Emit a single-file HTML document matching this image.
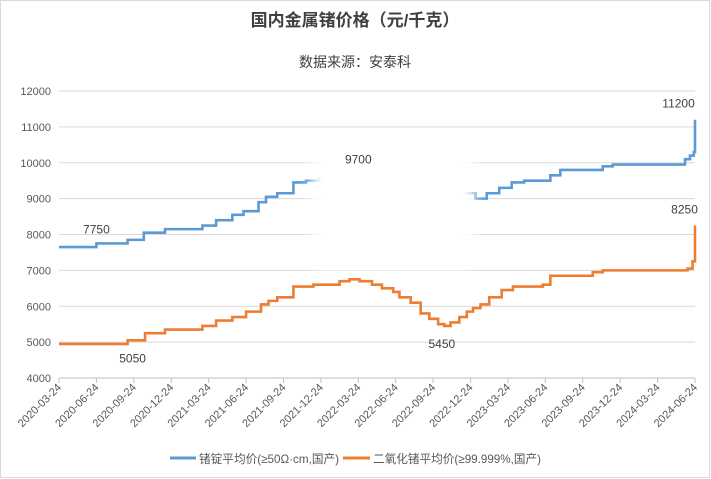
<!DOCTYPE html>
<html><head><meta charset="utf-8"><style>
body{margin:0;background:#fff;}
#wrap{position:relative;width:711px;height:479px;overflow:hidden;background:#fff;font-family:"Liberation Sans","Noto Sans CJK SC",sans-serif;}
</style></head><body>
<div id="wrap">
<svg id="chart" width="711" height="479"></svg>
</div>
<script>
const xTicks=["2020-03-24","2020-06-24","2020-09-24","2020-12-24","2021-03-24","2021-06-24","2021-09-24","2021-12-24","2022-03-24","2022-06-24","2022-09-24","2022-12-24","2023-03-24","2023-06-24","2023-09-24","2023-12-24","2024-03-24","2024-06-24"];
const yTicks=[4000,5000,6000,7000,8000,9000,10000,11000,12000];
// month offsets from 2020-03-24
const ingotMonths=[0,3,5.5,6.8,8.5,11.5,12.6,13.9,14.8,16,16.6,17.5,18.8,19.8,20.8,24,26,28,30,32,33.4,34.3,35.3,36.3,37.3,39.4,40.2,43.6,44.4,50.2,50.6,50.9,51];
const ingotValues=[7650,7750,7850,8050,8150,8250,8400,8550,8650,8900,9050,9150,9450,9500,9550,9700,9650,9500,9300,9150,9000,9150,9300,9450,9500,9650,9800,9900,9950,10100,10200,10300,11200];
const oxideMonths=[0,5.5,6.9,8.5,11.5,12.6,13.9,15,16.2,16.8,17.5,18.8,20.4,22.5,23.3,24.1,25.1,25.9,26.8,27.3,28.2,29,29.7,30.4,30.9,31.4,32.1,32.7,33.2,33.8,34.5,35.5,36.4,38.8,39.4,42.8,43.6,50.4,50.8,51];
const oxideValues=[4950,5050,5250,5350,5450,5600,5700,5850,6050,6150,6250,6550,6600,6700,6750,6700,6600,6500,6400,6250,6100,5800,5650,5500,5450,5550,5700,5850,5950,6050,6250,6450,6550,6600,6850,6950,7000,7050,7250,8250];
const labelValues=[7750,5050,9700,5450,11200,8250];

const X0=59,X1=695,Y0=378,Y1=91;
const xs=m=>X0+(X1-X0)*m/51;
const ys=v=>Y0-(Y0-Y1)*(v-4000)/8000;
const svg=document.getElementById('chart');
const NS='http://www.w3.org/2000/svg';
function mk(t,a,p){const e=document.createElementNS(NS,t);for(const k in a)e.setAttribute(k,a[k]);(p||svg).appendChild(e);return e;}

mk('rect',{x:0.5,y:0.5,width:709,height:477,fill:'none',stroke:'#d9d9d9'});
let t=mk('text',{x:355,y:26,'text-anchor':'middle','font-size':17,'font-weight':'bold',fill:'#404040'});t.textContent='国内金属锗价格（元/千克）';

t=mk('text',{x:355,y:67,'text-anchor':'middle','font-size':14,fill:'#404040'});t.textContent='数据来源：安泰科';


yTicks.forEach(v=>{
  const g=mk('line',{x1:X0,x2:X1,y1:ys(v),y2:ys(v),stroke:v===4000?'#bfbfbf':'#d9d9d9','stroke-width':1});
  
  const l=mk('text',{x:51,y:ys(v)+4,'text-anchor':'end','font-size':11,fill:'#595959'});l.textContent=v;
  
});
xTicks.forEach((d,i)=>{
  const x=xs(i*3);
  mk('line',{x1:x,x2:x,y1:Y0,y2:Y0+5,stroke:'#bfbfbf'});
  const l=mk('text',{x:x+3,y:Y0+10,'text-anchor':'end','font-size':11,fill:'#595959',transform:`rotate(-45 ${x+3} ${Y0+10})`});l.textContent=d;
  
});

function stepPath(ms,vs){let d=`M${xs(ms[0])},${ys(vs[0])}`;for(let i=1;i<ms.length;i++){d+=`H${xs(ms[i])}V${ys(vs[i])}`;}return d;}
let p=mk('path',{d:stepPath(ingotMonths,ingotValues),fill:'none',stroke:'#5b9bd5','stroke-width':2.6});

p=mk('path',{d:stepPath(oxideMonths,oxideValues),fill:'none',stroke:'#ed7d31','stroke-width':2.6});


// watermark blur overlay
const defs=mk('defs',{});const f=mk('filter',{id:'bl',x:'-30%',y:'-30%',width:'160%',height:'160%'},defs);mk('feGaussianBlur',{stdDeviation:6},f);
const ov=mk('rect',{x:312,y:150,width:162,height:118,fill:'#fff',filter:'url(#bl)'});


const lbl=[[xs(3),ys(7750)-10,'7750'],[xs(5.5)+5,ys(5050)+22,'5050'],[xs(24),ys(9700)-10,'9700'],[xs(30.7),ys(5450)+22,'5450'],[xs(50)-4,ys(11200)-12,'11200'],[xs(50)+2,ys(8250)-12,'8250']];
lbl.forEach((a,i)=>{const l=mk('text',{x:a[0],y:a[1],'text-anchor':'middle','font-size':12,fill:'#404040'});l.textContent=labelValues[i];
});

let lg=mk('line',{x1:170,x2:196,y1:458,y2:458,stroke:'#5b9bd5','stroke-width':3});

t=mk('text',{x:199,y:463,'font-size':12,fill:'#595959',textLength:140,lengthAdjust:'spacingAndGlyphs'});t.textContent='锗锭平均价(≥50Ω·cm,国产)';

lg=mk('line',{x1:343,x2:370,y1:458,y2:458,stroke:'#ed7d31','stroke-width':3});

t=mk('text',{x:373,y:463,'font-size':12,fill:'#595959',textLength:168,lengthAdjust:'spacingAndGlyphs'});t.textContent='二氧化锗平均价(≥99.999%,国产)';

</script>
</body></html>
